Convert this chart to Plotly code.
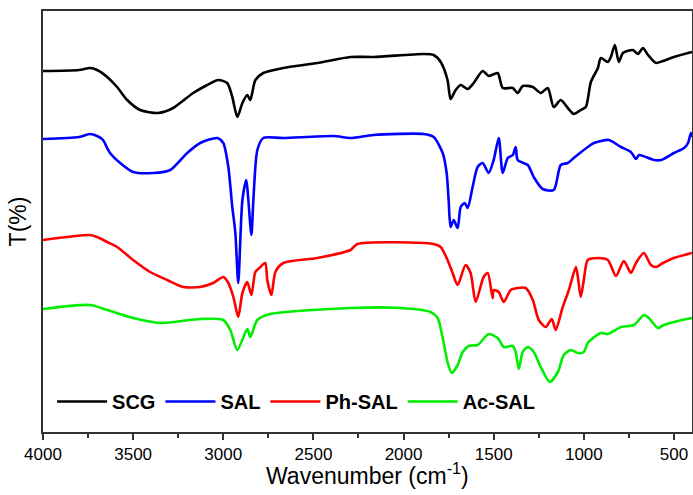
import plotly.graph_objects as go

# wavenumber (cm-1) and transmittance (arbitrary offset units)
scg_wn = [4000, 3800, 3739, 3700, 3644, 3589, 3533, 3461, 3361, 3278, 3167, 3089, 3028, 2978,
          2950, 2922, 2894, 2867, 2850, 2822, 2778, 2667, 2478, 2294, 2167, 1889, 1833, 1794,
          1756, 1739, 1711, 1683, 1644, 1611, 1561, 1528, 1478, 1450, 1394, 1367, 1339, 1283,
          1239, 1200, 1167, 1128, 1089, 1056, 1017, 989, 961, 922, 906, 867, 850, 828, 806,
          783, 728, 700, 672, 644, 600, 561, 500, 400]
scg_t = [361, 362, 364, 362, 355, 345, 332, 322, 319, 324, 339, 347, 352, 349,
         335, 315, 329, 337, 332, 352, 359, 364, 369, 375, 375, 378, 377, 370,
         352, 333, 342, 347, 343, 349, 361, 356, 359, 344, 344, 339, 346, 345,
         339, 344, 325, 332, 324, 318, 322, 325, 350, 364, 374, 370, 375, 387, 370,
         379, 382, 378, 384, 377, 369, 371, 375, 380]

sal_wn = [4000, 3800, 3739, 3700, 3667, 3644, 3628, 3572, 3500, 3389, 3294, 3200, 3128, 3033,
          3000, 2972, 2950, 2933, 2917, 2894, 2872, 2861, 2844, 2833, 2811, 2778, 2667, 2389,
          2294, 2167, 1889, 1833, 1783, 1761, 1750, 1739, 1722, 1700, 1683, 1661, 1644, 1617,
          1589, 1561, 1528, 1500, 1472, 1450, 1422, 1394, 1378, 1367, 1311, 1278, 1228, 1167,
          1128, 1089, 1056, 978, 944, 861, 794, 739, 711, 694, 611, 572, 500, 444, 422, 406, 400]
sal_t = [293, 295, 298, 296, 292, 284, 279, 269, 260, 259, 262, 279, 289, 294,
         289, 265, 225, 199, 149, 232, 252, 232, 197, 232, 282, 294, 294, 296,
         294, 297, 298, 295, 279, 259, 232, 205, 212, 204, 225, 229, 224, 245,
         265, 269, 259, 272, 294, 259, 274, 277, 285, 272, 267, 255, 243, 242,
         267, 269, 274, 285, 289, 292, 285, 280, 273, 277, 272, 272, 279, 284, 289, 299, 295]

phsal_wn = [4000, 3739, 3700, 3644, 3589, 3500, 3406, 3311, 3222, 3128, 3056, 3000, 2972, 2944,
            2917, 2894, 2867, 2844, 2822, 2794, 2767, 2756, 2733, 2711, 2667, 2478, 2294, 2256,
            1833, 1794, 1756, 1728, 1700, 1656, 1628, 1600, 1556, 1533, 1506, 1500, 1472, 1444,
            1406, 1367, 1322, 1283, 1250, 1211, 1178, 1156, 1117, 1083, 1044, 1033, 1017, 1000,
            978, 922, 867, 822, 778, 739, 711, 667, 628, 600, 561, 500, 400]
phsal_t = [192, 197, 195, 190, 185, 172, 160, 152, 145, 145, 149, 155, 149, 135,
           115, 139, 150, 137, 160, 165, 169, 152, 137, 160, 169, 174, 182, 188,
           188, 185, 172, 159, 147, 167, 159, 130, 155, 159, 134, 142, 140, 130,
           142, 144, 144, 132, 112, 105, 113, 102, 125, 142, 165, 155, 135, 152,
           172, 174, 172, 156, 171, 159, 169, 179, 167, 165, 169, 174, 179]

acsal_wn = [4000, 3739, 3644, 3500, 3350, 3128, 3000, 2961, 2922, 2867, 2850, 2811, 2739, 2294,
            2017, 1850, 1811, 1783, 1756, 1733, 1700, 1672, 1639, 1589, 1528, 1478, 1444, 1394,
            1378, 1361, 1339, 1311, 1278, 1239, 1189, 1144, 1111, 1072, 1033, 1000, 978, 906,
            867, 794, 722, 667, 639, 589, 556, 478, 400]
acsal_t = [123, 127, 122, 114, 109, 113, 112, 102, 82, 103, 95, 112, 118, 124,
           124, 120, 114, 94, 70, 59, 67, 80, 86, 87, 98, 94, 85, 86,
           80, 63, 80, 85, 80, 65, 50, 60, 77, 82, 79, 80, 89, 99,
           98, 105, 107, 117, 114, 104, 107, 111, 114]

series = [
    ("SCG", scg_wn, scg_t, "#000000"),
    ("SAL", sal_wn, sal_t, "#0000ff"),
    ("Ph-SAL", phsal_wn, phsal_t, "#ff0000"),
    ("Ac-SAL", acsal_wn, acsal_t, "#00ee00"),
]

x_ticks = [4000, 3500, 3000, 2500, 2000, 1500, 1000, 500]

fig = go.Figure()
for name, wn, t, color in series:
    fig.add_trace(go.Scatter(
        x=wn, y=t, mode="lines", name=name,
        line=dict(color=color, width=2.6, shape="spline", smoothing=0.7)
    ))

font_family = "Liberation Sans, Arial, sans-serif"
axis_font = dict(family=font_family, size=17, color="black")

fig.update_layout(
    width=693, height=495,
    margin=dict(l=43, r=1, t=11, b=63),
    paper_bgcolor="white", plot_bgcolor="white",
    font=axis_font,
    showlegend=True,
    legend=dict(
        orientation="h", x=0.014, y=0.026, xanchor="left", yanchor="bottom",
        font=dict(family=font_family, size=20, color="black", weight="bold"),
        itemwidth=50, bgcolor="rgba(0,0,0,0)", tracegroupgap=0,
    ),
    annotations=[dict(
        text="Wavenumber (cm<sup>-1</sup>)", xref="paper", yref="paper",
        x=0.5, y=-0.1, xanchor="center", yanchor="middle", showarrow=False,
        font=dict(family=font_family, size=23, color="black"),
    )],
)

fig.update_xaxes(
    range=[4000, 400], tickvals=x_ticks, ticks="outside", ticklen=6, tickwidth=1.5,
    tickcolor="#333", showline=True, linecolor="#333", linewidth=1.5, mirror=True,
    showgrid=False, zeroline=False, tickfont=axis_font, automargin=False,
    minor=dict(tickvals=[3750, 3250, 2750, 2250, 1750, 1250, 750], ticks="outside",
               ticklen=4, tickwidth=1.5, tickcolor="#333"),
)
fig.update_yaxes(
    range=[0, 421], showticklabels=False, ticks="", showline=True, linecolor="#333",
    linewidth=1.5, mirror=True, showgrid=False, zeroline=False, automargin=False,
    title=dict(text="T(%)", font=dict(size=23), standoff=8),
)

# drop the default 8px page margin so the figure fills the window
fig.write_html("out.html", config={"displayModeBar": False},
               post_script="document.body.style.margin = '0';")
